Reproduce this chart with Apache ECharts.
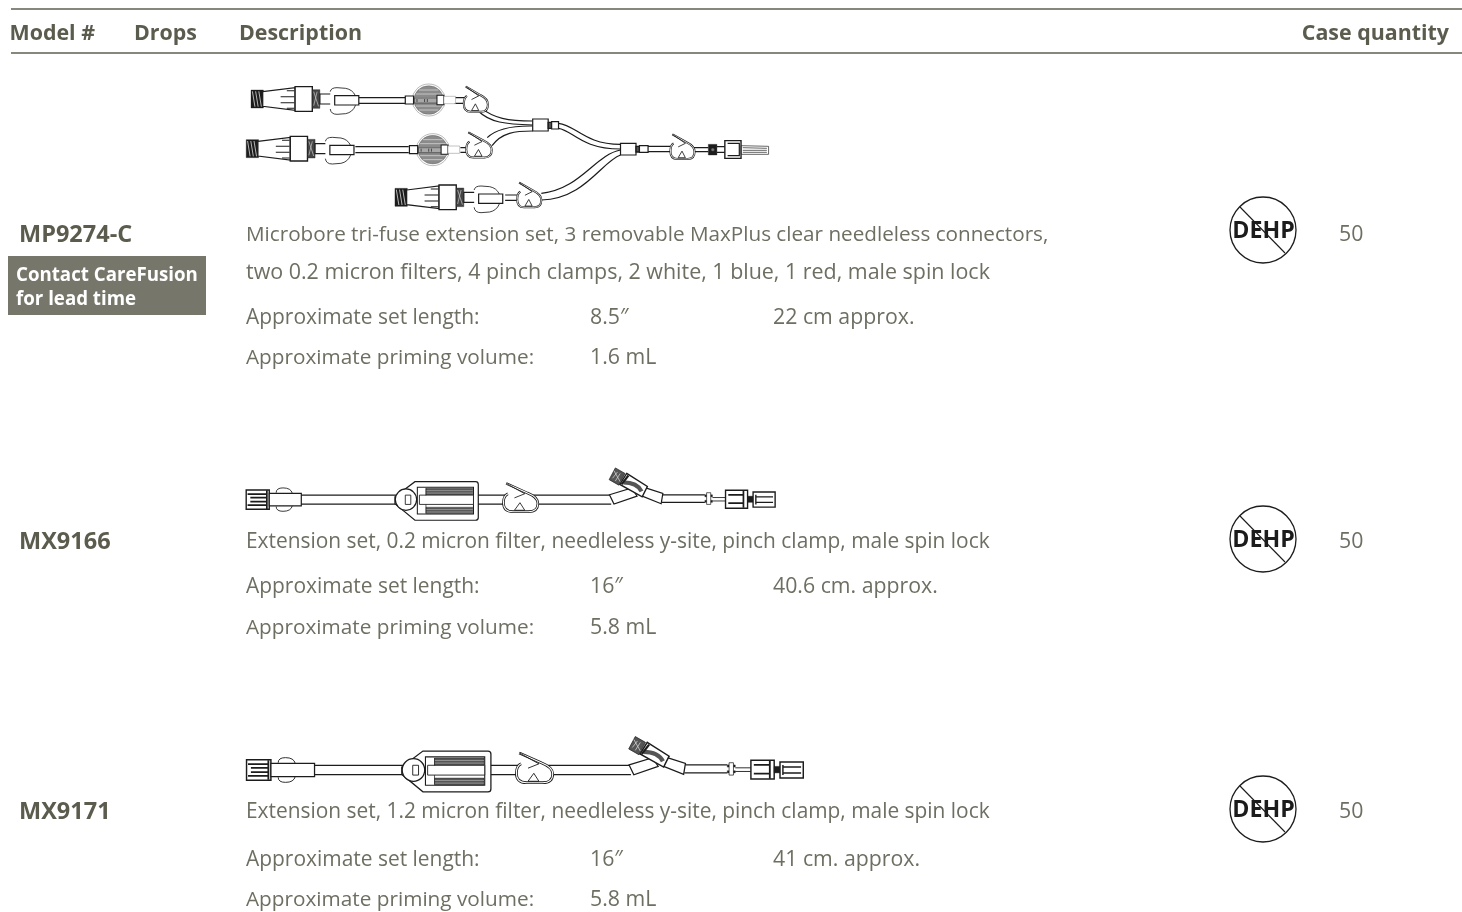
<!DOCTYPE html>
<html><head><meta charset="utf-8">
<style>html,body{margin:0;padding:0;background:#fff}#c{width:1462px;height:912px}</style>
<script src="https://cdn.jsdelivr.net/npm/echarts@6/dist/echarts.min.js"></script>
</head><body><div id="c"></div>
<script>
const headers = ['Model #','Drops','Description','Case quantity'];
const models = ['MP9274-C','MX9166','MX9171'];
const badgeLines = ['Contact CareFusion','for lead time'];
const descriptions = [
 ['Microbore tri-fuse extension set, 3 removable MaxPlus clear needleless connectors,','two 0.2 micron filters, 4 pinch clamps, 2 white, 1 blue, 1 red, male spin lock'],
 ['Extension set, 0.2 micron filter, needleless y-site, pinch clamp, male spin lock'],
 ['Extension set, 1.2 micron filter, needleless y-site, pinch clamp, male spin lock']
];
const lengthLabel = 'Approximate set length:';
const volumeLabel = 'Approximate priming volume:';
const lengthsIn = ['8.5″','16″','16″'];
const lengthsCm = ['22 cm approx.','40.6 cm. approx.','41 cm. approx.'];
const volumes = ['1.6 mL','5.8 mL','5.8 mL'];
const quantities = ['50','50','50'];
const rowY = [233,540,810];
const descY = [[233,271],[540],[810]];
const descSize = [[20.68,21.45],[20.9],[20.9]];
const lengthY = [316,585,858];
const volumeY = [356,626,898];
const iconY = [230,539,809];

const FONT='"Open Sans"', BODY='#6e6e62', DARK='#5c5c4e', INK='#1c1c1c';
const g=[];
let pathCount=0;
function T(x,y,s,o={}){return {type:'text',silent:true,x,y:y+2,style:{text:s,fontFamily:FONT,fontSize:o.size||21.3,fontWeight:o.w||'normal',fill:o.c||BODY,align:o.a||'left',verticalAlign:'middle'}};}
function P(d,o={}){
  const name='sketchPath'+(pathCount++);
  echarts.graphic.registerShape(name,echarts.graphic.extendPath(d));
  return {type:name,silent:true,style:{fill:o.f||'none',stroke:o.s===undefined?INK:o.s,lineWidth:o.l||3.5}};
}
function R(x,y,w,h,o={}){return {type:'rect',silent:true,shape:{x,y,width:w,height:h},style:{fill:o.f||'#fff',stroke:o.s===undefined?INK:o.s,lineWidth:o.l||3.5}};}
function C(x,y,r,o={}){return {type:'circle',silent:true,shape:{cx:x,cy:y,r},style:{fill:o.f||'#fff',stroke:o.s===undefined?INK:o.s,lineWidth:o.l||3.5}};}

/* --- device illustrations, in zoomed local units --- */
function clamp(x,y,k,ky){ // x,y: top-left; k,ky: size factors
  ky=ky||k;
  const p=(a,b)=>(x+a*k)+','+(y+b*ky);
  const ring=`M${p(8,0)} L${p(70,28)} Q${p(100,40)} ${p(100,58)} Q${p(100,82)} ${p(72,82)} L${p(28,82)} Q${p(0,82)} ${p(0,56)} Q${p(0,36)} ${p(13,30)}`;
  return [
   P(ring,{f:'#fff',s:'#fff',l:1}),
   P(ring,{l:7.5*Math.max(k,.8)}),
   P(ring,{s:'#fff',l:3*Math.max(k,.8)}),
   P(`M${p(8,0)} L${p(62,30)} L${p(32,42)} M${p(32,78)} L${p(62,78)} L${p(48,56)} Z`,{l:2.5})
  ];
}
function coil(x,y,w,h){
  const o=[R(x,y,w,h,{f:INK,l:1})];
  for(let i=0;i<3;i++){const a=x+4+i*(w-8)/3;o.push(P(`M${a},${y+4} L${a+(w-8)/3-2},${y+h-4}`,{s:'#fff',l:2}));}
  return o;
}
function spinConnector(x,y){ // x: left edge of coil; y: centre line
  const o=[];
  o.push(...coil(x,y-27,36,54));
  o.push(P(`M${x+34},${y-22} L${x+128},${y-34} L${x+128},${y+34} L${x+34},${y+22} Z`,{f:'#fff'}));
  o.push(P(`M${x+104},${y-25} L${x+126},${y-25} M${x+86},${y-7} L${x+126},${y-7} M${x+86},${y+11} L${x+126},${y+11} M${x+104},${y+28} L${x+126},${y+28}`,{l:3}));
  o.push(R(x+128,y-37,50,74,{l:4}));
  o.push(R(x+178,y-28,22,56,{f:'#444',l:1}));
  o.push(P(`M${x+182},${y-22} L${x+196},${y+22} M${x+192},${y-22} L${x+182},${y+20}`,{s:'#ccc',l:2}));
  o.push(R(x+200,y-15,44,30));
  o.push(P(`M${x+230},${y-22} Q${x+232},${y-34} ${x+250},${y-34} L${x+275},${y-32} Q${x+295},${y-28} ${x+303},${y-10} L${x+303},${y+20} Q${x+295},${y+40} ${x+275},${y+44} L${x+250},${y+46} Q${x+232},${y+46} ${x+230},${y+30}`,{f:'#fff',l:2.5}));
  o.push(R(x+243,y-10,70,28));
  return o;
}
function microFilter(x,y){
  const o=[C(x,y,48,{f:'#fff',l:1.5,s:'#777'}),C(x,y,43,{f:'#8b8b8b',l:1,s:'#555'})];
  for(let i=-3;i<=3;i++){const dy=i*12+6,w=Math.sqrt(Math.max(0,1700-dy*dy));o.push(P(`M${x-w},${y+dy} L${x+w},${y+dy}`,{s:'#cfcfcf',l:2.5}));}
  o.push(R(x-42,y-6,68,15,{f:'#a8a8a8',l:1.5}));
  o.push(P(`M${x-34},${y-3} L${x-34},${y+6} M${x-12},${y-3} L${x-12},${y+6} M${x-4},${y-3} L${x-4},${y+6}`,{l:2}));
  o.push(R(x-68,y-12,24,24));
  o.push(R(x+24,y-14,20,28,{l:3}));
  o.push(R(x+44,y-11,34,22,{l:1.5,s:'#888'}));
  return o;
}
function triFuse(){
  const e=[];
  e.push(P('M345,68 L480,68 M345,85 L480,85 M335,215 L490,215 M335,233 L490,233 M622,68 L660,68 M622,85 L660,85 M640,218 L670,218 M640,232 L670,232',{}));
  e.push(P('M700,98 C735,130 780,138 850,138 M692,108 C725,142 770,148 850,150',{}));
  e.push(P('M718,188 C745,160 790,152 850,153 M732,212 C760,172 800,168 850,168',{}));
  e.push(P('M925,145 C975,150 1000,208 1105,208 M925,160 C965,165 990,222 1105,222',{}));
  e.push(P('M1105,225 C1030,240 990,342 875,355 M1105,240 C1050,260 1000,372 875,375',{}));
  e.push(...spinConnector(32,72), ...spinConnector(18,221), ...spinConnector(450,367));
  e.push(P('M770,360 L810,360 M770,376 L810,376',{}));
  e.push(...microFilter(548,75), ...microFilter(560,224));
  e.push(...clamp(650,35,.7,.92), ...clamp(657,172,.74,.92), ...clamp(805,323,.7,.9));
  e.push(R(850,132,45,36), R(895,142,10,18,{l:4,f:'#555'}), R(905,140,20,22));
  e.push(R(1105,205,45,35), R(1150,214,10,17,{l:4,f:'#555'}), R(1160,212,25,20));
  e.push(P('M1185,214 L1255,214 M1185,230 L1255,230 M1315,218 L1360,218 M1315,230 L1360,230',{}));
  e.push(...clamp(1250,178,.7,.9));
  e.push(R(1360,208,25,32,{f:INK,l:1}), C(1373,224,5,{f:'#777',l:1}));
  e.push(P('M1385,215 L1408,215 M1385,232 L1408,232',{}));
  e.push(R(1408,197,47,53,{l:4}));
  e.push(P('M1416,205 L1450,205 L1450,242 L1416,242',{l:3.5}));
  e.push(P('M1455,212 L1535,214 L1535,238 L1455,238 Z M1460,218 L1530,220 M1460,226 L1530,226 M1460,232 L1530,232',{l:2.2,s:'#333'}));
  return e;
}
function extensionSet(o){
  const y0=o.y, e=[];
  e.push(R(18,y0-28,67,56,{l:4}));
  e.push(P(`M22,${y0-16} L78,${y0-16} L78,${y0-6} L30,${y0-6} M30,${y0+6} L78,${y0+6} L78,${y0+16} L22,${y0+16} M78,${y0-27} L78,${y0+27}`,{l:5}));
  e.push(P(`M105,${y0-20} Q105,${y0-34} 125,${y0-34} Q148,${y0-34} 152,${y0-18} M105,${y0+20} Q105,${y0+34} 125,${y0+34} Q148,${y0+34} 152,${y0+18}`,{l:2.5}));
  e.push(R(85,y0-18,o.block-85,36));
  e.push(P(`M${o.block},${y0-13} L${o.fx+30},${y0-13} M${o.block},${y0+13} L${o.fx+30},${y0+13}`,{}));
  const fx=o.fx;
  e.push(P(`M${fx},${y0-8} L${fx+58},${y0-52} L${o.fr-8},${y0-52} Q${o.fr},${y0-52} ${o.fr},${y0-44} L${o.fr},${y0+52} Q${o.fr},${y0+60} ${o.fr-8},${y0+60} L${fx+58},${y0+60} L${fx},${y0+12} Z`,{f:'#fff'}));
  e.push(C(fx+32,y0,31));
  e.push(R(fx+30,y0-13,16,27,{l:2.5}));
  e.push(R(fx+65,y0-36,163,78,{l:3}));
  e.push(R(fx+90,y0-33,136,21,{f:'#555',l:1}));
  e.push(R(fx+90,y0+22,136,19,{f:'#555',l:1}));
  for(const d of [-26,-19,29,36]) e.push(P(`M${fx+90},${y0+d} L${fx+226},${y0+d}`,{s:'#ccc',l:1.5}));
  e.push(R(fx+71,y0-13,157,27,{l:2.5}));
  e.push(P(`M${fx+90},${y0-12} L${fx+90},${y0-33} M${fx+90},${y0+14} L${fx+90},${y0+40}`,{l:2}));
  e.push(P(`M${o.fr},${y0-13} L${o.yx},${y0-13} M${o.fr},${y0+13} L${o.yx},${y0+13}`,{}));
  e.push(...clamp(o.cx,y0-47,1));
  const yx=o.yx;
  e.push(P(`M${yx-5},${y0-14} L${yx+60},${y0-34} L${yx+75},${y0-10} L${yx+8},${y0+13} Z`,{f:'#fff'}));
  e.push(P(`M${yx+100},${y0-34} L${yx+150},${y0-18} L${yx+145},${y0+12} L${yx+90},${y0-10} Z`,{f:'#fff'}));
  e.push(P(`M${yx+45},${y0-76} L${yx+105},${y0-38} L${yx+90},${y0-8} L${yx+25},${y0-44} Z`,{f:'#fff',l:4}));
  e.push(P(`M${yx+35},${y0-50} Q${yx+75},${y0-50} ${yx+88},${y0-24}`,{s:'#555',l:12}));
  e.push(P(`M${yx+30},${y0-44} L${yx+50},${y0-70}`,{l:6}));
  e.push(P(`M${yx+12},${y0-92} L${yx+40},${y0-76} L${yx+22},${y0-42} L${yx-6},${y0-58} Z`,{f:'#555',l:2}));
  e.push(P(`M${yx+8},${y0-84} L${yx+26},${y0-52} M${yx+18},${y0-80} L${yx+4},${y0-62} M${yx+26},${y0-76} L${yx+12},${y0-54}`,{s:'#ddd',l:2}));
  e.push(P(`M${yx+150},${y0-14} L${o.fit},${y0-14} M${yx+147},${y0+8} L${o.fit},${y0+8}`,{}));
  e.push(R(o.fit,y0-14,22,6,{f:INK,l:1}), R(o.fit,y0+2,22,6,{f:INK,l:1}), R(o.fit+5,y0-20,12,34,{l:2}));
  e.push(P(`M${o.fit+22},${y0-6} L${o.lock},${y0-6} M${o.fit+22},${y0+4} L${o.lock},${y0+4}`,{l:2.5}));
  e.push(R(o.lock,y0-27,64,52,{l:4}));
  e.push(P(`M${o.lock+8},${y0-14} L${o.lock+50},${y0-14} M${o.lock+8},${y0+10} L${o.lock+50},${y0+10} M${o.lock+52},${y0-26} L${o.lock+52},${y0+24}`,{l:5}));
  e.push(R(o.lock+64,y0-10,16,18,{f:INK,l:1}));
  e.push(R(o.lock+80,y0-22,64,44,{l:4}));
  e.push(P(`M${o.lock+88},${y0-8} L${o.lock+138},${y0-8} M${o.lock+88},${y0+8} L${o.lock+138},${y0+8} M${o.lock+88},${y0-14} L${o.lock+88},${y0+14}`,{l:4}));
  return e;
}
function group(x,y,sx,sy,children){return {type:'group',silent:true,x,y,scaleX:sx,scaleY:sy,children};}

const headerX=[9.5,134,239];
headers.slice(0,3).forEach((h,i)=>g.push(T(headerX[i],32,h,{w:'bold',c:DARK,size:21.4})));
g.push(T(1449,32,headers[3],{w:'bold',c:DARK,size:21.4,a:'right'}));
[9,53].forEach(y=>{
  g.push({type:'line',silent:true,shape:{x1:11,y1:y,x2:1462,y2:y},style:{stroke:'#5f5f50',lineWidth:1.3}});
});

models.forEach((m,i)=>{
  g.push(T(19,rowY[i],m,{w:'bold',c:DARK,size:23.5}));
  descriptions[i].forEach((d,j)=>g.push(T(246,descY[i][j],d,{size:descSize[i][j]})));
  g.push(T(246,lengthY[i],lengthLabel,{size:20.95}));
  g.push(T(590,lengthY[i],lengthsIn[i]));
  g.push(T(773,lengthY[i],lengthsCm[i]));
  g.push(T(246,volumeY[i],volumeLabel,{size:20.75}));
  g.push(T(590,volumeY[i],volumes[i]));
  g.push(T(1339,rowY[i],quantities[i]));
  const y=iconY[i];
  g.push({type:'circle',silent:true,shape:{cx:1263,cy:y,r:33},style:{fill:'#fff',stroke:INK,lineWidth:1.3}});
  g.push(T(1263.5,y-1,'DEHP',{w:'bold',c:INK,size:23.2,a:'center'}));
  g.push({type:'line',silent:true,shape:{x1:1240,y1:y-23,x2:1285,y2:y+23},style:{stroke:INK,lineWidth:1.1}});
});

g.push({type:'rect',silent:true,shape:{x:8,y:256,width:198,height:59},style:{fill:'#76766a'}});
g.push(T(16,274,badgeLines[0],{w:'bold',c:'#fff',size:18.7}));
g.push(T(16,298,badgeLines[1],{w:'bold',c:'#fff',size:18.7}));

g.push(group(240,75,1/2.904,1/3,triFuse()));
g.push(group(240,460,1/2.904,1/2.904,extensionSet({y:115,block:178,fx:450,fr:692,cx:765,yx:1078,fit:1350,lock:1410})));
g.push(group(240,730,1/2.75,1/2.75,extensionSet({y:110,block:205,fx:445,fr:690,cx:760,yx:1075,fit:1340,lock:1405})));

const chart=echarts.init(document.getElementById('c'),null,{renderer:'canvas'});
chart.setOption({animation:false,backgroundColor:'#fff',graphic:{elements:g}});
</script></body></html>
